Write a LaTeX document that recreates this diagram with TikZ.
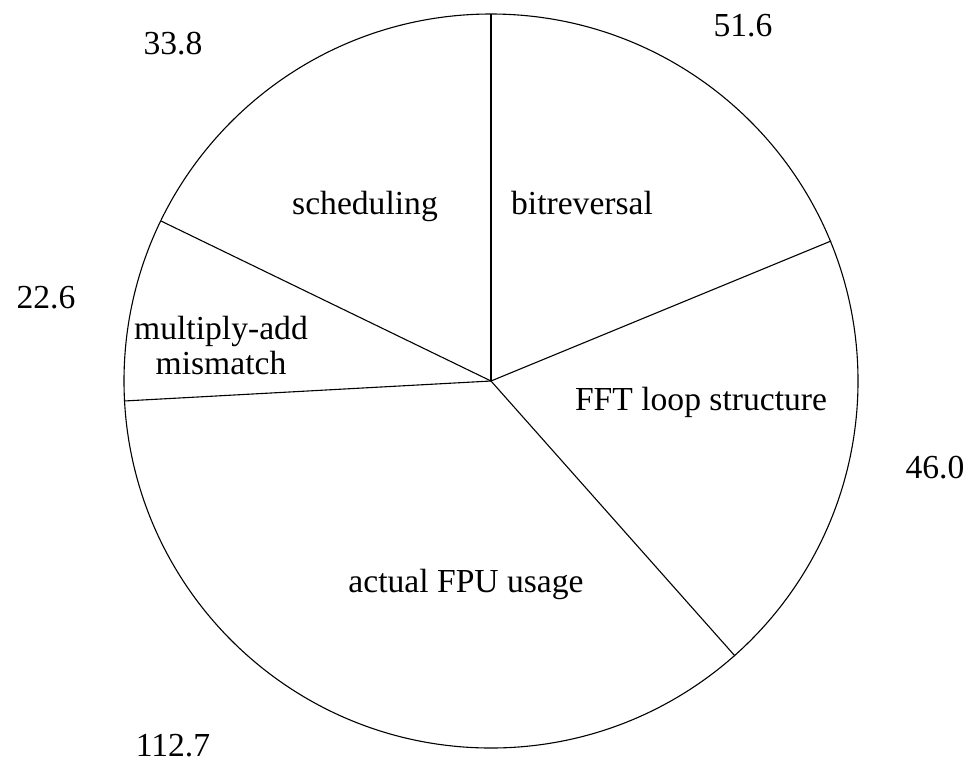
\documentclass[tikz,border=0pt]{standalone}
\usepackage{fontspec}
\setmainfont{Liberation Serif}
\usepackage{tikz}

\begin{document}
\begin{tikzpicture}[
        x=0.5pt, y=-0.5pt,
        % estilo de las etiquetas
        lbl/.style={inner sep=0pt, align=center, font=\fontsize{16.8}{17.5}\selectfont},
        spoke/.style={line width=0.55pt}
    ]
        \useasboundingbox (0,0) rectangle (977,766);
        \coordinate (c) at (491,381);
        \draw[spoke] (c) circle[radius=367];

        % bordes de los sectores
        \coordinate (r1) at (491,14);
        \coordinate (r2) at (831,241);
        \coordinate (r3) at (735,656);
        \coordinate (r4) at (124,401);
        \coordinate (r5) at (161,221);
        \foreach \r in {r1,r2,r3,r4,r5}
            \draw[spoke] (c) -- (\r);

        % nombres de los sectores
        \node [lbl, anchor=base] (bitrev) at (582,214) {bitreversal};
        \node [lbl, anchor=base] (sched) at (365,214) {scheduling};
        \node [lbl, anchor=base] (fftloop) at (701,410) {FFT loop structure};
        \node [lbl, anchor=base] (fpu) at (466,592) {actual FPU usage};
        \node [lbl] (madd) at (221,345) {multiply-add\\mismatch};

        % valores
        \node [lbl, anchor=base] (v1) at (743,36) {51.6};
        \node [lbl, anchor=base] (v2) at (935,478) {46.0};
        \node [lbl, anchor=base] (v3) at (173,756) {112.7};
        \node [lbl, anchor=base] (v4) at (46,308) {22.6};
        \node [lbl, anchor=base] (v5) at (173,54) {33.8};
    \end{tikzpicture}
\end{document}
